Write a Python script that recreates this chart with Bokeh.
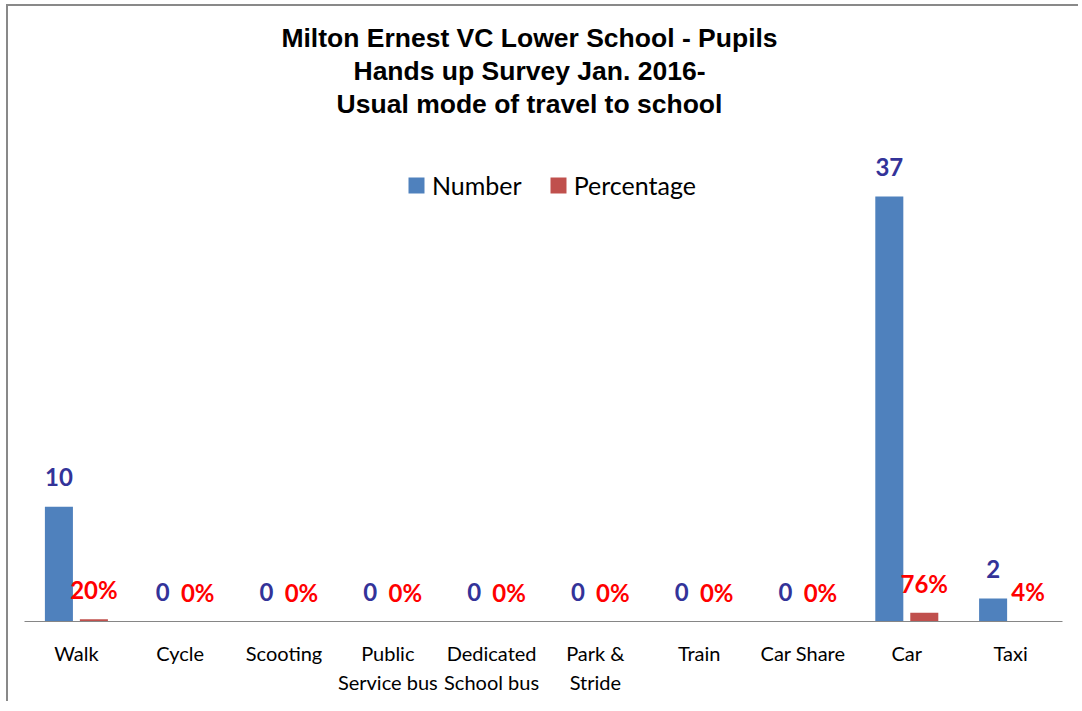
from bokeh.plotting import figure
from bokeh.models import ColumnDataSource, FactorRange, Range1d, LabelSet, Label
from bokeh.transform import dodge
from bokeh.core.properties import value
from bokeh.embed import file_html
from bokeh.resources import INLINE

categories = ["Walk", "Cycle", "Scooting", "Public\nService bus", "Dedicated\nSchool bus",
              "Park &\nStride", "Train", "Car Share", "Car", "Taxi"]
numbers = [10, 0, 0, 0, 0, 0, 0, 0, 37, 2]
percentages = [20, 0, 0, 0, 0, 0, 0, 0, 76, 4]
title_lines = ["Milton Ernest VC Lower School - Pupils",
               "Hands up Survey Jan. 2016-",
               "Usual mode of travel to school"]

BLUE = "#4F81BD"
RED = "#C0504D"
FONT = "Lato"

src = ColumnDataSource(dict(
    cat=categories,
    num=numbers,
    pct=[v / 100 for v in percentages],
    num_lbl=[str(v) for v in numbers],
    pct_lbl=[f"{v}%" for v in percentages],
))

p = figure(width=1072, height=697, output_backend="svg", toolbar_location=None,
           x_range=FactorRange(*categories), y_range=Range1d(0, 53.54),
           min_border_left=16, min_border_right=18, min_border_top=0, min_border_bottom=82)
p.styles = {"border-left": "2px solid #898989", "border-top": "2px solid #898989",
            "margin-left": "6px", "margin-top": "4px"}
p.outline_line_color = None
p.grid.visible = False
p.yaxis.visible = False
p.x_range.range_padding = 0

p.vbar(x=dodge("cat", -0.1685, range=p.x_range), top="num", width=0.27, source=src,
       fill_color=BLUE, line_color=None, legend_label="Number")
p.vbar(x=dodge("cat", 0.1685, range=p.x_range), top="pct", width=0.27, source=src,
       fill_color=RED, line_color=None, legend_label="Percentage")

p.add_layout(LabelSet(x=dodge("cat", -0.1685, range=p.x_range), y="num", text="num_lbl",
                      source=src, text_align="center", text_baseline="middle", y_offset=29.5,
                      text_font=value(FONT), text_font_style="bold", text_font_size="24px",
                      text_color="#333399"))
p.add_layout(LabelSet(x=dodge("cat", 0.1685, range=p.x_range), y="pct", text="pct_lbl",
                      source=src, text_align="center", text_baseline="middle", y_offset=29.5,
                      text_font=value(FONT), text_font_style="bold", text_font_size="24px",
                      text_color="#FF0000"))

for i, line in enumerate(title_lines):
    p.add_layout(Label(x=505, y=584 - 33 * i, x_units="screen", y_units="screen", text=line,
                       text_align="center", text_baseline="middle",
                       text_font="Liberation Sans", text_font_style="bold",
                       text_font_size="26.5px", text_color="#000000"))

ax = p.xaxis[0]
ax.axis_line_color = "#868686"
ax.axis_line_width = 1
ax.major_tick_line_color = None
ax.minor_tick_line_color = None
ax.major_tick_out = 0
ax.major_tick_in = 0
ax.major_label_standoff = 19
ax.major_label_text_font = FONT
ax.major_label_text_font_size = "20px"
ax.major_label_text_color = "#000000"
ax.major_label_text_line_height = 1.24

lg = p.legend[0]
lg.orientation = "horizontal"
lg.location = (382, 421)
lg.padding = 0
lg.margin = 0
lg.border_line_color = None
lg.background_fill_alpha = 0
lg.glyph_width = 20
lg.glyph_height = 20
lg.label_standoff = 6
lg.spacing = 26
lg.label_text_font = FONT
lg.label_text_font_size = "25px"
lg.label_text_color = "#000000"

open("out.html", "w").write(file_html(p, INLINE))
